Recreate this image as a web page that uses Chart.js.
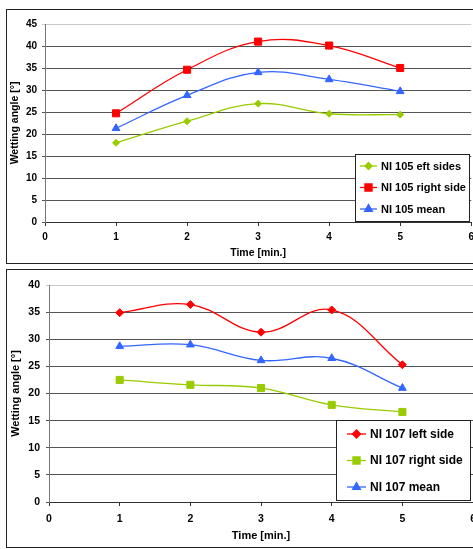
<!DOCTYPE html>
<html>
<head>
<meta charset="utf-8">
<script src="https://cdn.jsdelivr.net/npm/chart.js@4/dist/chart.umd.min.js"></script>
<style>
  html, body { margin: 0; padding: 0; background: #fff; overflow: hidden; width: 473px; height: 549px; }
  .frame { position: absolute; border: 1px solid #222; }
  canvas { position: absolute; left: 0; }
</style>
</head>
<body>
<div class="frame" style="left:6px;top:9px;width:480px;height:253px"></div>
<div class="frame" style="left:6px;top:269px;width:480px;height:277px"></div>
<canvas id="chart-ni105" width="479" height="262" style="top:0"></canvas>
<canvas id="chart-ni107" width="483" height="276" style="top:271px"></canvas>
<script>
const times = [1, 2, 3, 4, 5];

const labels105 = ['NI 105 eft sides', 'NI 105 right side', 'NI 105 mean'];
const ni105Left = [18.0, 22.9, 26.9, 24.6, 24.4];
const ni105Right = [24.7, 34.6, 41.0, 40.1, 35.0];
const ni105Mean = [21.3, 28.8, 34.0, 32.4, 29.7];

const labels107 = ['NI 107 left side', 'NI 107 right side', 'NI 107 mean'];
const ni107Left = [34.9, 36.4, 31.3, 35.4, 25.3];
const ni107Right = [22.5, 21.6, 21.0, 17.9, 16.6];
const ni107Mean = [28.7, 29.0, 26.1, 26.5, 21.0];

const RED = '#ff0000';
const GREEN = '#99cc00';
const BLUE = '#3366ff';
const FONT = "'Liberation Sans', Arial, sans-serif";

function serie(label, values, color, style, radius) {
  return {
    label,
    data: values.map((v, i) => ({ x: times[i], y: v })),
    borderColor: color,
    backgroundColor: color,
    pointStyle: style,
    pointRadius: radius,
    pointBorderWidth: 1,
    borderWidth: 1.3,
    tension: 0.4,
    fill: false,
  };
}

// legenda desenhada em caixa branca dentro da area do grafico
const boxLegend = {
  id: 'boxLegend',
  afterDraw(chart, args, o) {
    const ctx = chart.ctx;
    ctx.save();
    ctx.fillStyle = '#fff';
    ctx.fillRect(o.x, o.y, o.w, o.h);
    ctx.strokeStyle = '#222';
    ctx.lineWidth = 1;
    ctx.strokeRect(o.x + 0.5, o.y + 0.5, o.w, o.h);
    chart.data.datasets.forEach((ds, i) => {
      const cy = o.y + o.first + i * o.gap;
      const x0 = o.x + o.lineStart;
      ctx.strokeStyle = ds.borderColor;
      ctx.lineWidth = 1.3;
      ctx.beginPath();
      ctx.moveTo(x0, cy);
      ctx.lineTo(x0 + o.lineLen, cy);
      ctx.stroke();
      ctx.fillStyle = ds.backgroundColor;
      Chart.helpers.drawPoint(ctx, { pointStyle: ds.pointStyle, radius: ds.pointRadius, borderWidth: 1, rotation: 0 }, x0 + o.lineLen / 2, cy);
      ctx.fillStyle = '#000';
      ctx.font = 'bold ' + o.fontSize + 'px ' + FONT;
      ctx.textBaseline = 'middle';
      ctx.fillText(ds.label, x0 + o.lineLen + o.textGap, cy + 0.5);
    });
    ctx.restore();
  },
};

function makeChart(id, datasets, yMax, sizes, legend) {
  return new Chart(document.getElementById(id), {
    type: 'line',
    data: { datasets },
    plugins: [boxLegend],
    options: {
      responsive: false,
      animation: false,
      layout: { padding: { top: sizes.top, left: 0, right: 0, bottom: 0 } },
      plugins: {
        legend: { display: false },
        tooltip: { enabled: false },
        boxLegend: legend,
      },
      scales: {
        x: {
          type: 'linear',
          min: 0,
          max: 6,
          ticks: { stepSize: 1, color: '#000', padding: sizes.xPad, font: { family: FONT, size: sizes.tick, weight: 'bold' } },
          grid: { drawOnChartArea: false, tickLength: 4, color: '#333' },
          border: { color: '#333', width: 1 },
          title: { display: true, text: 'Time [min.]', color: '#000', padding: { top: 0, bottom: sizes.titleBottom }, font: { family: FONT, size: sizes.title, weight: 'bold' } },
          afterFit: (s) => { s.height = sizes.xHeight; },
        },
        y: {
          min: 0,
          max: yMax,
          ticks: { stepSize: 5, color: '#000', padding: sizes.yPad, font: { family: FONT, size: sizes.tick, weight: 'bold' } },
          grid: {
            tickLength: 3,
            color: (c) => (c.tick && c.tick.value === yMax ? '#c8c8c8' : '#555'),
          },
          border: { color: '#777', width: 1 },
          title: { display: true, text: 'Wetting angle [°]', color: '#000', padding: { top: sizes.yTitlePad, bottom: 0 }, font: { family: FONT, size: sizes.title, weight: 'bold' } },
          afterFit: (s) => { s.width = sizes.yWidth; },
        },
      },
    },
  });
}

makeChart('chart-ni105', [
  serie(labels105[0], ni105Left, GREEN, 'rectRot', 3.5),
  serie(labels105[1], ni105Right, RED, 'rect', 5),
  serie(labels105[2], ni105Mean, BLUE, 'triangle', 4.5),
], 45,
{ top: 24, xHeight: 40, yWidth: 45, tick: 10, title: 10.5, xPad: 5, yPad: 5, titleBottom: 3, yTitlePad: 9 },
{ x: 355, y: 154, w: 114, h: 67, first: 12, gap: 21.5, lineStart: 5, lineLen: 17, textGap: 4, fontSize: 11 });

makeChart('chart-ni107', [
  serie(labels107[0], ni107Left, RED, 'rectRot', 4),
  serie(labels107[1], ni107Right, GREEN, 'rect', 5),
  serie(labels107[2], ni107Mean, BLUE, 'triangle', 4.5),
], 40,
{ top: 14, xHeight: 45, yWidth: 49, tick: 10.5, title: 11, xPad: 7, yPad: 6, titleBottom: 4, yTitlePad: 9 },
{ x: 336, y: 149, w: 134, h: 80, first: 14, gap: 26.5, lineStart: 11, lineLen: 19, textGap: 4, fontSize: 12 });
</script>
</body>
</html>
